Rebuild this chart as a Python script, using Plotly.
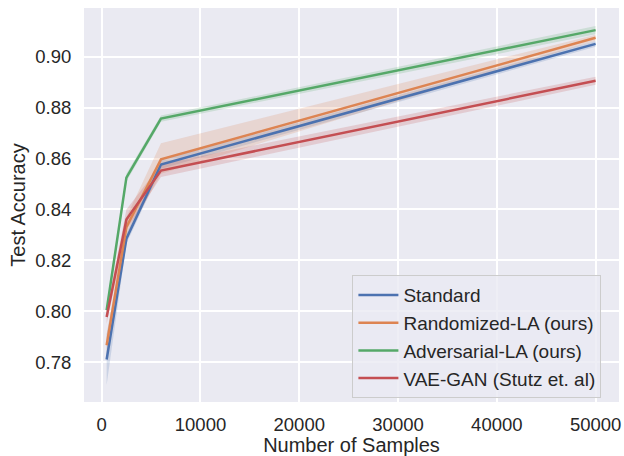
import plotly.graph_objects as go

# Data
samples = [500, 2500, 6000, 50000]

standard = [0.7810, 0.8285, 0.8577, 0.9051]
standard_lo = [0.7710, 0.8265, 0.8560, 0.9040]
standard_hi = [0.7910, 0.8305, 0.8594, 0.9062]

randomized = [0.7866, 0.8330, 0.8597, 0.9075]
randomized_lo = [0.7826, 0.8290, 0.8540, 0.9063]
randomized_hi = [0.7906, 0.8370, 0.8660, 0.9087]

adversarial = [0.8004, 0.8525, 0.8757, 0.9105]
adversarial_lo = [0.7984, 0.8510, 0.8745, 0.9089]
adversarial_hi = [0.8024, 0.8540, 0.8769, 0.9121]

vaegan = [0.7977, 0.8360, 0.8553, 0.8906]
vaegan_lo = [0.7950, 0.8320, 0.8528, 0.8890]
vaegan_hi = [0.8004, 0.8400, 0.8578, 0.8922]

names = ["Standard", "Randomized-LA (ours)", "Adversarial-LA (ours)", "VAE-GAN (Stutz et. al)"]
colors = ["#4c72b0", "#dd8452", "#55a868", "#c44e52"]
bands = ["rgba(76,114,176,0.2)", "rgba(221,132,82,0.2)", "rgba(85,168,104,0.2)", "rgba(196,78,82,0.2)"]

series = [
    (standard, standard_lo, standard_hi),
    (randomized, randomized_lo, randomized_hi),
    (adversarial, adversarial_lo, adversarial_hi),
    (vaegan, vaegan_lo, vaegan_hi),
]

fig = go.Figure()
for i, (mid, lo, hi) in enumerate(series):
    fig.add_trace(go.Scatter(x=samples, y=hi, mode="lines", line=dict(width=0),
                             showlegend=False, hoverinfo="skip", legendgroup=f"g{i}"))
    fig.add_trace(go.Scatter(x=samples, y=lo, mode="lines", line=dict(width=0),
                             fill="tonexty", fillcolor=bands[i],
                             showlegend=False, hoverinfo="skip", legendgroup=f"g{i}"))
for i, (mid, lo, hi) in enumerate(series):
    fig.add_trace(go.Scatter(x=samples, y=mid, mode="lines", name=names[i],
                             line=dict(color=colors[i], width=2.5), legendgroup=f"g{i}"))

font = dict(family="Liberation Sans, Arial, sans-serif", color="#262626")
fig.update_layout(
    width=624, height=456,
    margin=dict(l=84, r=5, t=8, b=54),
    paper_bgcolor="white",
    plot_bgcolor="#eaeaf2",
    font=dict(size=18.5, **font),
    legend=dict(x=0.5017, y=0.322, xanchor="left", yanchor="top",
                bgcolor="rgba(234,234,242,0.8)", bordercolor="#cccccc", borderwidth=1,
                font=dict(size=19, **font), tracegroupgap=0, itemwidth=40),
)
fig.update_xaxes(range=[-1792, 52368], tickvals=[0, 10000, 20000, 30000, 40000, 50000],
                 ticktext=["0", "10000", "20000", "30000", "40000", "50000"],
                 showgrid=True, gridcolor="white", gridwidth=1.5, zeroline=False,
                 ticks="outside", ticklen=6, tickcolor="rgba(0,0,0,0)",
                 tickfont=dict(size=18.5), showline=False, automargin=False,
                 title=dict(text="Number of Samples", font=dict(size=20), standoff=2))
fig.update_yaxes(range=[0.7643, 0.9192], tickvals=[0.78, 0.80, 0.82, 0.84, 0.86, 0.88, 0.90],
                 ticktext=["0.78", "0.80", "0.82", "0.84", "0.86", "0.88", "0.90"],
                 showgrid=True, gridcolor="white", gridwidth=1.5, zeroline=False,
                 ticks="outside", ticklen=8, tickcolor="rgba(0,0,0,0)",
                 tickfont=dict(size=18.5), showline=False, automargin=False,
                 title=dict(text="Test Accuracy", font=dict(size=20), standoff=4))

fig.write_html("out.html", config={"displayModeBar": False},
               post_script="document.body.style.margin='0px';document.body.style.overflow='hidden';")
